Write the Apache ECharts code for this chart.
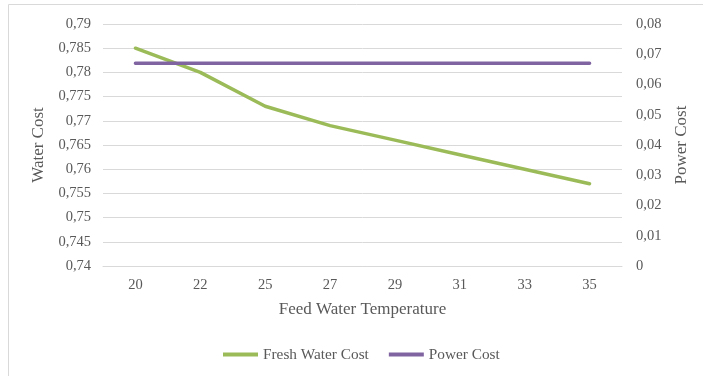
<!DOCTYPE html>
<html><head><meta charset="utf-8">
<script src="https://cdn.jsdelivr.net/npm/echarts@6/dist/echarts.min.js"></script>
<style>html,body{margin:0;padding:0;background:#fff}#c{width:703px;height:376px}</style>
</head><body><div id="c"></div>
<script>
const categories = ['20','22','25','27','29','31','33','35'];
const freshWaterCost = [0.785, 0.780, 0.773, 0.769, 0.766, 0.763, 0.760, 0.757];
const powerCost = [0.067, 0.067, 0.067, 0.067, 0.067, 0.067, 0.067, 0.067];

const fmt = v => parseFloat(v.toFixed(4)).toString().replace('.', ',');
const txt = '#595959';
const font = 'Liberation Serif';
const chart = echarts.init(document.getElementById('c'));
chart.setOption({
  animation: false,
  textStyle: { fontFamily: font },
  graphic: [{ type: 'rect', shape: { x: 8.5, y: 4.5, width: 700, height: 380 }, style: { fill: 'none', stroke: '#d9d9d9', lineWidth: 1 } }],
  grid: { left: 103, right: 81, top: 24, bottom: 110 },
  legend: {
    bottom: 9, left: 218, itemWidth: 35, itemHeight: 4, itemGap: 20, icon: 'rect',
    textStyle: { color: txt, fontFamily: font, fontSize: 15.3 },
    data: ['Fresh Water Cost', 'Power Cost']
  },
  xAxis: {
    type: 'category', data: categories, boundaryGap: true,
    name: 'Feed Water Temperature', nameLocation: 'middle', nameGap: 35,
    nameTextStyle: { color: txt, fontSize: 17, fontFamily: font },
    axisLine: { lineStyle: { color: '#d9d9d9' } }, axisTick: { show: false },
    axisLabel: { color: txt, fontSize: 14.5, margin: 12, fontFamily: font }
  },
  yAxis: [{
    type: 'value', min: 0.74, max: 0.79, interval: 0.005,
    name: 'Water Cost', nameLocation: 'middle', nameGap: 51, nameRotate: 90,
    nameTextStyle: { color: txt, fontSize: 17, fontFamily: font },
    axisLine: { show: false }, axisTick: { show: false },
    axisLabel: { color: txt, fontSize: 14.5, margin: 12, fontFamily: font, formatter: fmt },
    splitLine: { lineStyle: { color: '#d9d9d9' } }
  }, {
    type: 'value', min: 0, max: 0.08, interval: 0.01,
    name: 'Power Cost', nameLocation: 'middle', nameGap: 51, nameRotate: 90,
    nameTextStyle: { color: txt, fontSize: 17, fontFamily: font },
    axisLine: { show: false }, axisTick: { show: false },
    axisLabel: { color: txt, fontSize: 14.5, margin: 14, fontFamily: font, formatter: fmt },
    splitLine: { show: false }
  }],
  series: [{
    name: 'Fresh Water Cost', type: 'line', data: freshWaterCost, yAxisIndex: 0,
    showSymbol: false, symbol: 'none', lineStyle: { color: '#9BBB59', width: 3.5, cap: 'round' },
    itemStyle: { color: '#9BBB59' }
  }, {
    name: 'Power Cost', type: 'line', data: powerCost, yAxisIndex: 1,
    showSymbol: false, symbol: 'none', lineStyle: { color: '#8064A2', width: 3.5, cap: 'round' },
    itemStyle: { color: '#8064A2' }
  }]
});
</script></body></html>
